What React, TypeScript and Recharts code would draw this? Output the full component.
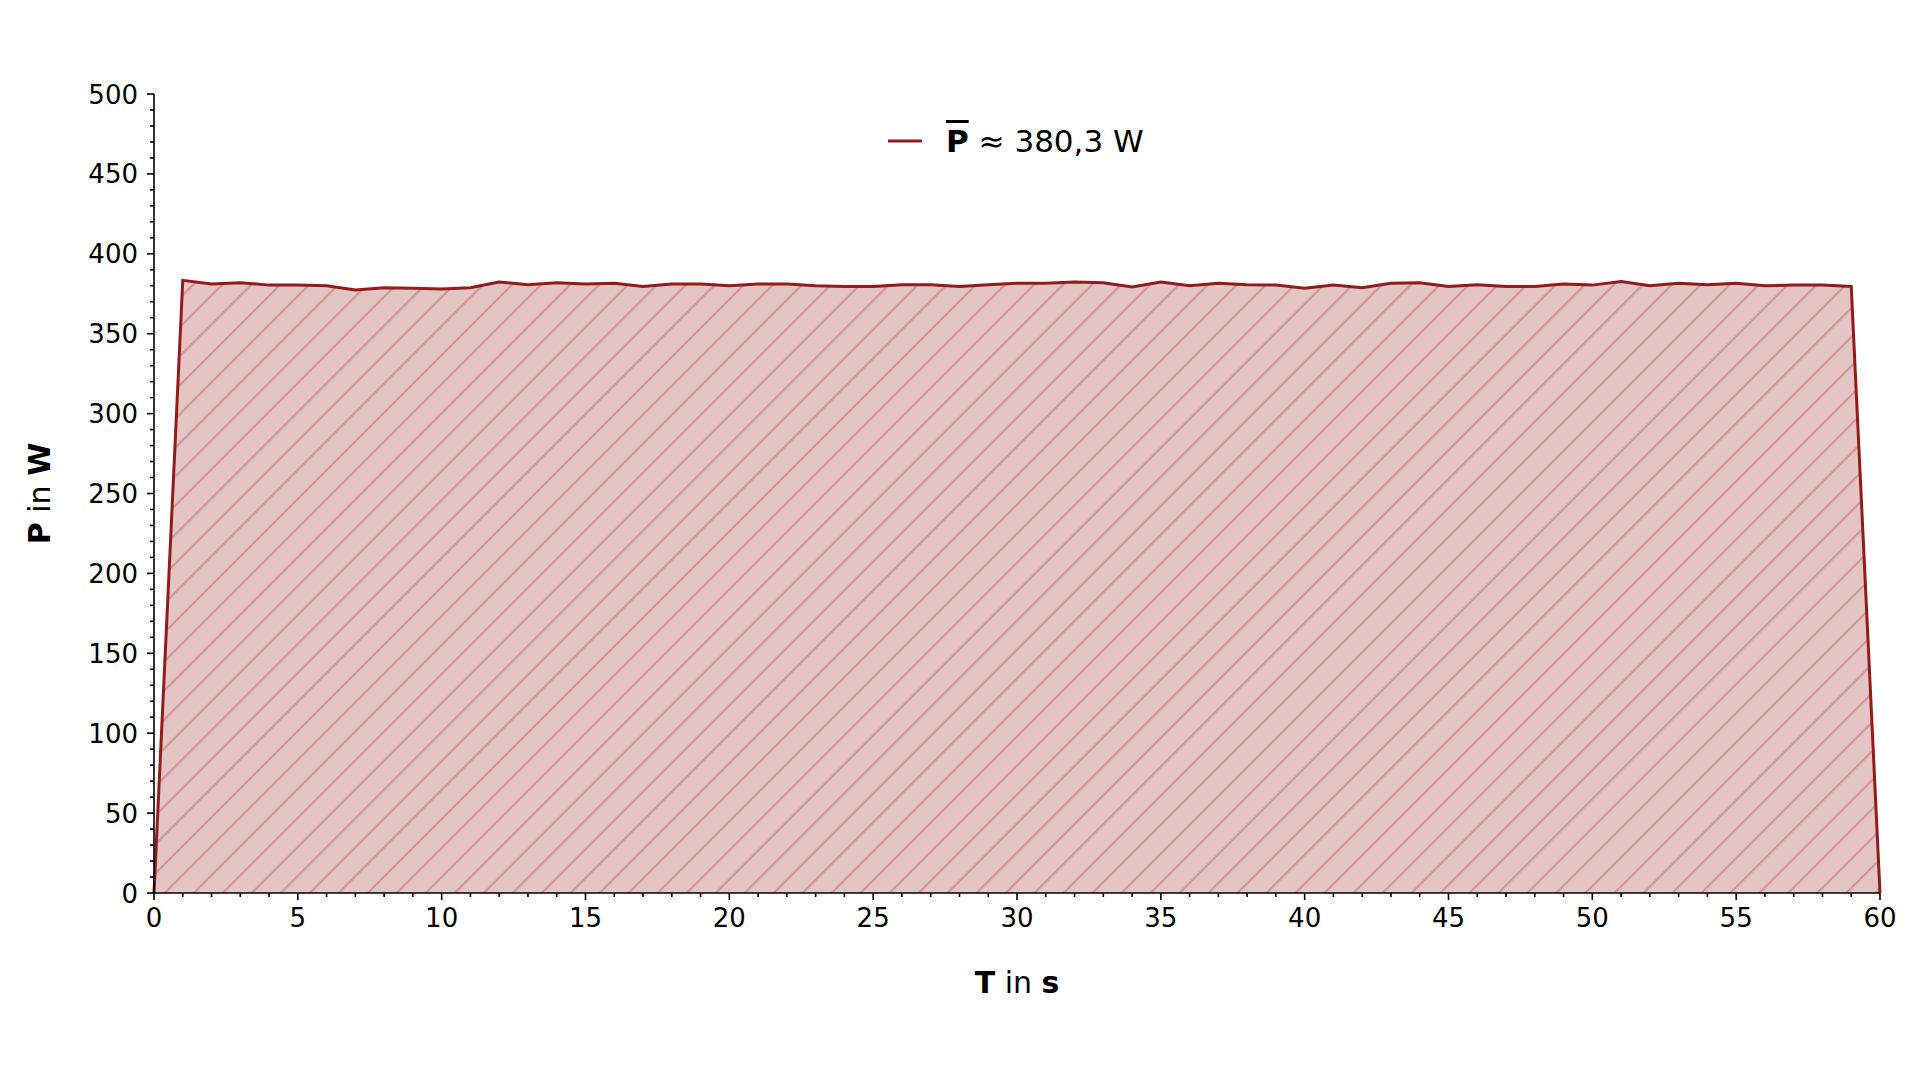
import React from "react";
import { AreaChart, Area, XAxis, YAxis, Legend } from "recharts";

// time in seconds
const seconds = [
  0, 1, 2, 3, 4, 5, 6, 7, 8, 9, 10, 11, 12, 13, 14, 15, 16, 17, 18, 19, 20,
  21, 22, 23, 24, 25, 26, 27, 28, 29, 30, 31, 32, 33, 34, 35, 36, 37, 38, 39,
  40, 41, 42, 43, 44, 45, 46, 47, 48, 49, 50, 51, 52, 53, 54, 55, 56, 57, 58,
  59, 60,
];

// power in W
const power = [
  0, 383.4, 381.1, 381.9, 380.4, 380.4, 380.0, 377.3, 378.8, 378.5, 378.0,
  378.8, 382.3, 380.7, 381.9, 381.1, 381.5, 379.6, 381.1, 381.1, 380.0, 381.1,
  381.1, 380.0, 379.6, 379.6, 380.7, 380.7, 379.6, 380.7, 381.5, 381.5, 382.3,
  381.9, 379.2, 382.3, 380.0, 381.5, 380.7, 380.4, 378.4, 380.4, 378.8, 381.5,
  381.9, 379.6, 380.7, 379.6, 379.6, 381.1, 380.4, 382.7, 380.0, 381.5, 380.7,
  381.5, 380.0, 380.4, 380.4, 379.6, 0,
];

const xMajorTicks = [0, 5, 10, 15, 20, 25, 30, 35, 40, 45, 50, 55, 60];
const xAllTicks = [
  0, 1, 2, 3, 4, 5, 6, 7, 8, 9, 10, 11, 12, 13, 14, 15, 16, 17, 18, 19, 20,
  21, 22, 23, 24, 25, 26, 27, 28, 29, 30, 31, 32, 33, 34, 35, 36, 37, 38, 39,
  40, 41, 42, 43, 44, 45, 46, 47, 48, 49, 50, 51, 52, 53, 54, 55, 56, 57, 58,
  59, 60,
];
const yMajorTicks = [0, 50, 100, 150, 200, 250, 300, 350, 400, 450, 500];
const yAllTicks = [
  0, 10, 20, 30, 40, 50, 60, 70, 80, 90, 100, 110, 120, 130, 140, 150, 160,
  170, 180, 190, 200, 210, 220, 230, 240, 250, 260, 270, 280, 290, 300, 310,
  320, 330, 340, 350, 360, 370, 380, 390, 400, 410, 420, 430, 440, 450, 460,
  470, 480, 490, 500,
];

const meanLabel = "380,3";

const data = seconds.map((t, i) => ({ t, p: power[i] }));

const FONT = "DejaVu Sans";
const LINE = "#941b1b";
const AXIS = "#000";

const XTick = (props: any) => {
  const { x, y, payload } = props;
  const v = payload.value;
  const major = xMajorTicks.includes(v);
  return (
    <g>
      <line x1={x} x2={x} y1={y} y2={y + (major ? 7 : 4)} stroke={AXIS} strokeWidth={1.6} />
      {major && (
        <text x={x} y={y + 34} textAnchor="middle" fontSize={26} fontFamily={FONT} fill="#000">
          {v}
        </text>
      )}
    </g>
  );
};

const YTick = (props: any) => {
  const { x, y, payload } = props;
  const v = payload.value;
  const major = yMajorTicks.includes(v);
  return (
    <g>
      <line x1={x} x2={x - (major ? 7 : 4)} y1={y} y2={y} stroke={AXIS} strokeWidth={1.6} />
      {major && (
        <text x={x - 16} y={y + 9.5} textAnchor="end" fontSize={26} fontFamily={FONT} fill="#000">
          {v}
        </text>
      )}
    </g>
  );
};

const XLabel = (props: any) => {
  const vb = props.viewBox;
  return (
    <text x={vb.x + vb.width / 2} y={vb.y + 100} textAnchor="middle" fontSize={30} fontFamily={FONT} fill="#000">
      <tspan fontWeight="bold">T</tspan>
      <tspan> in </tspan>
      <tspan fontWeight="bold">s</tspan>
    </text>
  );
};

const YLabel = (props: any) => {
  const vb = props.viewBox;
  const cx = 50;
  const cy = vb.y + vb.height / 2;
  return (
    <text x={cx} y={cy} transform={`rotate(-90 ${cx} ${cy})`} textAnchor="middle" fontSize={30} fontFamily={FONT} fill="#000">
      <tspan fontWeight="bold">P</tspan>
      <tspan> in </tspan>
      <tspan fontWeight="bold">W</tspan>
    </text>
  );
};

const LegendContent = () => (
  <div style={{ display: "flex", alignItems: "center", fontFamily: FONT, fontSize: 31, lineHeight: "30px", color: "#000", whiteSpace: "nowrap" }}>
    <svg width={36} height={30} style={{ display: "block" }}>
      <line x1={1} x2={35} y1={15} y2={15} stroke={LINE} strokeWidth={3} />
    </svg>
    <span style={{ marginLeft: 23 }}>
      <span style={{ fontWeight: "bold", textDecoration: "overline", textDecorationThickness: "2.5px" }}>P</span>
      {" \u2248 " + meanLabel + " W"}
    </span>
  </div>
);

export default function App() {
  return (
    <div style={{ position: "absolute", left: 0, top: 0, width: 1920, height: 1080, background: "#fff" }}>
      <AreaChart width={1920} height={1080} data={data} margin={{ top: 94, right: 40, bottom: 127, left: 94 }}>
        <defs>
          <pattern id="hatch" patternUnits="userSpaceOnUse" width={20.5} height={20.5} patternTransform="rotate(45)">
            <rect x={0} y={0} width={20.5} height={20.5} fill="#e5c4c4" />
            <line x1={10} y1={0} x2={10} y2={20.5} stroke="#cd9292" strokeWidth={2} />
          </pattern>
        </defs>
        <XAxis
          dataKey="t"
          type="number"
          domain={[0, 60]}
          ticks={xAllTicks}
          interval={0}
          height={60}
          tickLine={false}
          tickSize={0}
          tickMargin={0}
          axisLine={{ stroke: AXIS, strokeWidth: 1.6 }}
          tick={<XTick />}
          label={<XLabel />}
        />
        <YAxis
          type="number"
          domain={[0, 500]}
          ticks={yAllTicks}
          interval={0}
          width={60}
          tickLine={false}
          tickSize={0}
          tickMargin={0}
          axisLine={{ stroke: AXIS, strokeWidth: 1.6 }}
          tick={<YTick />}
          label={<YLabel />}
          allowDataOverflow
        />
        <Area
          type="linear"
          dataKey="p"
          stroke={LINE}
          strokeWidth={3}
          fill="url(#hatch)"
          fillOpacity={1}
          dot={false}
          activeDot={false}
          isAnimationActive={false}
        />
        <Legend
          layout="vertical"
          align="center"
          verticalAlign="middle"
          content={<LegendContent />}
          wrapperStyle={{ position: "absolute", left: 887, top: 126, width: "auto", height: "auto" }}
        />
      </AreaChart>
    </div>
  );
}
